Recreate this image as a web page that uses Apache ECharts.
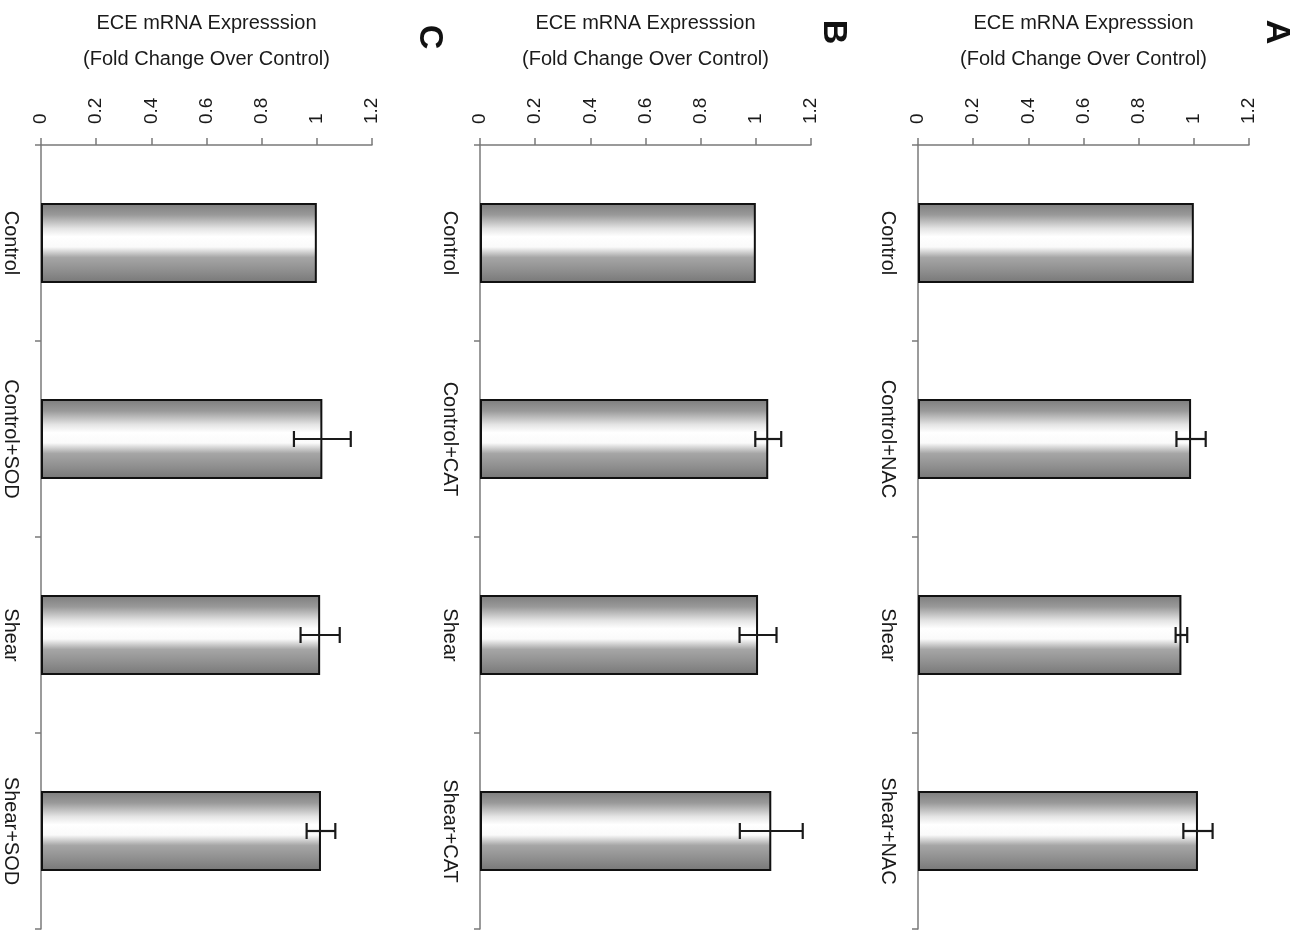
<!DOCTYPE html>
<html>
<head>
<meta charset="utf-8">
<script src="https://cdn.jsdelivr.net/npm/echarts@6/dist/echarts.min.js"></script>
<style>
  html, body { margin: 0; padding: 0; background: #ffffff; }
  #chart { width: 1300px; height: 933px; }
</style>
</head>
<body>
<div id="chart"></div>
<script>
// Categories for each panel (top to bottom)
const categoriesA = ['Control', 'Control+NAC', 'Shear', 'Shear+NAC'];
const categoriesB = ['Control', 'Control+CAT', 'Shear', 'Shear+CAT'];
const categoriesC = ['Control', 'Control+SOD', 'Shear', 'Shear+SOD'];

// Fold change over control (mean) and error (±) per panel
const valuesA = [1.0, 0.99, 0.955, 1.015];
const errorsA = [0, 0.053, 0.021, 0.053];
const valuesB = [1.0, 1.045, 1.008, 1.056];
const errorsB = [0, 0.047, 0.067, 0.114];
const valuesC = [1.0, 1.02, 1.012, 1.015];
const errorsC = [0, 0.103, 0.071, 0.052];

// Value axis ticks
const tickMin = 0;
const tickMax = 1.2;
const tickStep = 0.2;

const axisTitle = 'ECE mRNA Expresssion\n(Fold Change Over Control)';
const panelLetters = ['A', 'B', 'C'];

const FONT = '"Liberation Sans", Arial, sans-serif';
const TEXT = '#1a1a1a';
const AXIS = '#7a7a7a';

const panels = [
  { cats: categoriesC, vals: valuesC, errs: errorsC, left: 41 },
  { cats: categoriesB, vals: valuesB, errs: errorsB, left: 480 },
  { cats: categoriesA, vals: valuesA, errs: errorsA, left: 918 }
];

const barFill = new echarts.graphic.LinearGradient(0, 0, 0, 1, [
  { offset: 0.0, color: '#7c7c7c' },
  { offset: 0.15, color: '#9a9a9a' },
  { offset: 0.32, color: '#e4e4e4' },
  { offset: 0.42, color: '#ffffff' },
  { offset: 0.55, color: '#fafafa' },
  { offset: 0.68, color: '#a6a6a6' },
  { offset: 0.85, color: '#8e8e8e' },
  { offset: 1.0, color: '#777777' }
]);

const grid = [], xAxis = [], yAxis = [], series = [];

panels.forEach((p, i) => {
  grid.push({ left: p.left, top: 145, width: 331, height: 784 });
  xAxis.push({
    gridIndex: i,
    type: 'value',
    position: 'top',
    min: tickMin,
    max: tickMax,
    interval: tickStep,
    name: axisTitle,
    nameLocation: 'middle',
    nameGap: 68,
    nameTextStyle: { fontFamily: FONT, fontSize: 20, color: TEXT, lineHeight: 36 },
    axisLine: { show: true, lineStyle: { color: AXIS, width: 1.5 } },
    axisTick: { show: true, length: 7, lineStyle: { color: AXIS, width: 1.5 } },
    axisLabel: {
      rotate: -90, margin: 21,
      fontFamily: FONT, fontSize: 19, color: TEXT
    },
    splitLine: { show: false }
  });
  yAxis.push({
    gridIndex: i,
    type: 'category',
    data: p.cats,
    inverse: true,
    boundaryGap: true,
    axisLine: { show: true, lineStyle: { color: AXIS, width: 1.5 } },
    axisTick: { show: true, length: 6, lineStyle: { color: AXIS, width: 1.5 } },
    axisLabel: {
      interval: 0, rotate: -90, margin: 20,
      fontFamily: FONT, fontSize: 20, color: TEXT
    }
  });
  series.push({
    type: 'bar',
    xAxisIndex: i,
    yAxisIndex: i,
    data: p.vals,
    barWidth: 80,
    itemStyle: { color: barFill, borderColor: '#111111', borderWidth: 2 },
    silent: true
  });
  series.push({
    type: 'custom',
    xAxisIndex: i,
    yAxisIndex: i,
    data: p.vals.map((v, k) => [k, v, p.errs[k]]),
    z: 5,
    renderItem: function (params, api) {
      const k = api.value(0);
      const v = api.value(1);
      const e = api.value(2);
      if (!e) return null;
      const lo = api.coord([v - e, k]);
      const hi = api.coord([v + e, k]);
      const h = 8;
      const st = { stroke: '#1a1a1a', lineWidth: 2.2 };
      return {
        type: 'group',
        children: [
          { type: 'line', shape: { x1: lo[0], y1: lo[1], x2: hi[0], y2: hi[1] }, style: st },
          { type: 'line', shape: { x1: lo[0], y1: lo[1] - h, x2: lo[0], y2: lo[1] + h }, style: st },
          { type: 'line', shape: { x1: hi[0], y1: hi[1] - h, x2: hi[0], y2: hi[1] + h }, style: st }
        ]
      };
    }
  });
});

// Panel letters, turned with the rest of the figure
const letterPos = { A: [1276, 32], B: [833, 32], C: [429, 37] };
const graphic = panelLetters.map(L => ({
  type: 'text',
  x: letterPos[L][0],
  y: letterPos[L][1],
  rotation: -Math.PI / 2,
  style: {
    text: L,
    fontFamily: FONT,
    fontSize: 34,
    fontWeight: 'bold',
    fill: '#111111',
    align: 'center',
    verticalAlign: 'middle'
  }
}));

const chart = echarts.init(document.getElementById('chart'), null, { renderer: 'canvas' });
chart.setOption({
  backgroundColor: '#ffffff',
  animation: false,
  grid, xAxis, yAxis, series, graphic
});
</script>
</body>
</html>
